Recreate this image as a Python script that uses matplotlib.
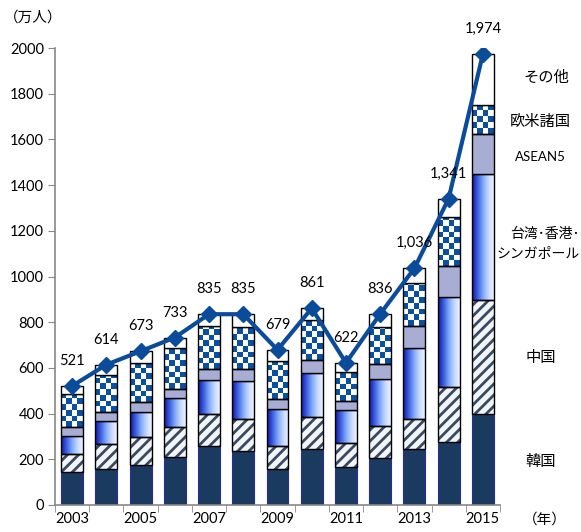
import numpy as np
import matplotlib
matplotlib.use("Agg")
from matplotlib import pyplot as plt
from matplotlib.colors import LinearSegmentedColormap, ListedColormap
from matplotlib.patches import Rectangle

plt.rcParams['font.family'] = ['Lato', 'Noto Sans CJK JP', 'DejaVu Sans']

# data (万人)
years = list(range(2003, 2016))
korea = [146, 158, 174, 209, 258, 238, 156, 244, 166, 204, 245, 276, 400]
china = [76, 108, 125, 131, 139, 137, 104, 141, 104, 143, 131, 241, 499]
tw_hk_sg = [80, 102, 107, 128, 150, 169, 159, 192, 146, 203, 311, 394, 551]
asean5 = [38, 40, 43, 41, 48, 51, 45, 57, 40, 65, 98, 137, 175]
west = [144, 161, 174, 177, 188, 185, 166, 174, 125, 164, 185, 213, 127]
totals = [521, 614, 673, 733, 835, 835, 679, 861, 622, 836, 1036, 1341, 1974]
others = [t - a - b - c - d - e for t, a, b, c, d, e in
          zip(totals, korea, china, tw_hk_sg, asean5, west)]

legend_labels = [("その他", 546, 78, 11), ("欧米諸国", 540, 122, 11),
                 ("ASEAN5", 540, 157, 9.5), ("台湾･香港･", 545, 233, 10),
                 ("シンガポール", 538, 253, 10), ("中国", 541, 358, 11),
                 ("韓国", 541, 462, 11)]

W, H = 581, 532
fig = plt.figure(figsize=(W / 100, H / 100), dpi=100)
ax = fig.add_axes([55 / W, 27 / H, 445 / W, 457 / H])

x = np.arange(len(years))
bw = 0.64
navy_line = '#0b4c9a'

grad = LinearSegmentedColormap.from_list(
    'g', ['#1414a0', '#3a5ee0', '#7fa8f8', '#c4d8ff', '#eef2ff'])
checker_cm = ListedColormap(['white', '#0b50a0'])

bottom = np.zeros(len(years))

# 韓国
ax.bar(x, korea, bw, bottom=bottom, color='#1b3a5f', edgecolor='#2b2ba0',
       linewidth=0.8, zorder=2)
bottom += korea

# 中国 (hatched)
plt.rcParams['hatch.linewidth'] = 2.0
plt.rcParams['hatch.color'] = '#394a60'
ax.bar(x, china, bw, bottom=bottom, color='#f2f5f8', edgecolor='#394a60',
       hatch='///', linewidth=0, zorder=2)
ax.bar(x, china, bw, bottom=bottom, fill=False, edgecolor='black',
       linewidth=1, zorder=4)
bottom += china

# 台湾・香港・シンガポール (gradient)
grad_img = np.linspace(0, 1, 64).reshape(1, -1)
rects = ax.bar(x, tw_hk_sg, bw, bottom=bottom, color='none',
               edgecolor='black', linewidth=1, zorder=4)
for r in rects:
    ax.imshow(grad_img, cmap=grad, aspect='auto', interpolation='bicubic',
              extent=(r.get_x(), r.get_x() + r.get_width(),
                      r.get_y(), r.get_y() + r.get_height()), zorder=2)
bottom += tw_hk_sg

# ASEAN5
ax.bar(x, asean5, bw, bottom=bottom, color='#a8aed3', edgecolor='black',
       linewidth=1, zorder=4)
bottom += asean5

# 欧米諸国 (checkered)
rects = ax.bar(x, west, bw, bottom=bottom, color='none', edgecolor='black',
               linewidth=1, zorder=4)
sq = 25.0
for r in rects:
    y0 = r.get_y()
    h = r.get_height()
    nrow = int(np.ceil(h / sq))
    arr = (np.add.outer(np.arange(nrow), np.arange(4)) % 2).astype(float)
    clip = Rectangle((r.get_x(), y0), r.get_width(), h, transform=ax.transData)
    im = ax.imshow(arr, cmap=checker_cm, aspect='auto', interpolation='nearest',
                   origin='lower', vmin=0, vmax=1,
                   extent=(r.get_x(), r.get_x() + r.get_width(),
                           y0, y0 + nrow * sq), zorder=2)
    im.set_clip_path(clip)
bottom += west

# その他
ax.bar(x, others, bw, bottom=bottom, color='white', edgecolor='black',
       linewidth=1, zorder=4)

# total line
ax.plot(x, totals, color=navy_line, linewidth=3, marker='D', markersize=8,
        zorder=6)
for xi, t in zip(x, totals):
    ax.annotate(f"{t:,}", (xi, t), xytext=(0, 18), textcoords='offset pixels',
                ha='center', va='bottom', fontsize=10.5, zorder=7)

ax.set_xlim(-0.5, len(years) - 0.5)
ax.set_ylim(0, 2000)
ax.set_yticks(range(0, 2001, 200))
ax.set_xticks(x)
ax.set_xticklabels([str(y) if y % 2 == 1 else '' for y in years])
ax.set_xticks(np.arange(-0.5, len(years)), minor=True)
ax.tick_params(axis='x', which='major', length=0, labelsize=10.5, pad=5)
ax.tick_params(axis='x', which='minor', length=5, color='#888888')
ax.tick_params(axis='y', length=5, color='#888888', labelsize=10.5, pad=3)
for s in ['top', 'right']:
    ax.spines[s].set_visible(False)
for s in ['left', 'bottom']:
    ax.spines[s].set_color('#888888')
    ax.spines[s].set_linewidth(1.2)

for txt, px, py, fs in legend_labels:
    fig.text(px / W, 1 - py / H, txt, ha='center', va='center', fontsize=fs)
fig.text(545 / W, 1 - 520 / H, "（年）", ha='center', va='center', fontsize=10.5)
fig.text(33 / W, 1 - 18 / H, "（万人）", ha='center', va='center', fontsize=10.5)

plt.savefig("out.png", dpi=100)
